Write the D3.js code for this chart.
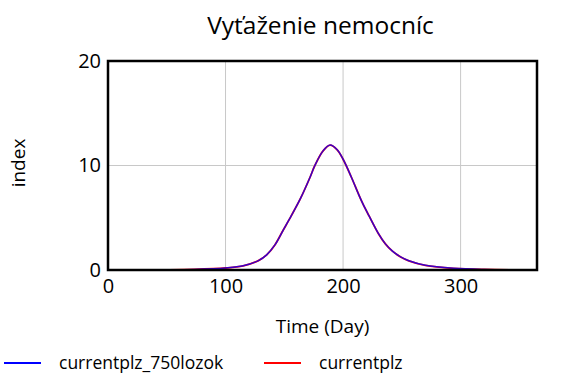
<!DOCTYPE html>
<html>
    <head>
        <meta charset="utf-8">
        <title>Vyťaženie nemocníc</title>
        <script src="https://d3js.org/d3.v7.min.js"></script>
        <style>
            body { margin: 0; background: #fff; }
            text { font-family: "Open Sans", sans-serif; fill: #000; }
        </style>
    </head>
    <body>
        <svg width="576" height="384"></svg>
        <script>
            // data (day -> index)
            var days = [0, 50, 73, 100, 115, 128, 135, 142, 149, 156, 164, 172, 176, 183, 189, 195, 200, 207, 213, 217, 222, 230, 236, 242, 249, 256, 270, 294, 320, 365];
            var current750 = [0, 0.01, 0.05, 0.19, 0.4, 0.9, 1.45, 2.4, 3.8, 5.2, 6.9, 8.9, 10.0, 11.4, 11.95, 11.5, 10.6, 8.9, 7.3, 6.3, 5.2, 3.5, 2.5, 1.8, 1.25, 0.88, 0.45, 0.16, 0.05, 0.01];
            var current = current750.slice();
            var xTicks = [0, 100, 200, 300];
            var yTicks = [0, 10, 20];
            var seriesNames = ["currentplz_750lozok", "currentplz"];
            var seriesColors = ["#0000ff", "#ff0000"];

            var pLeft = 108, pRight = 537, pTop = 61, pBottom = 270;
            var svg = d3.select("svg");

            var x = d3.scaleLinear().domain([0, 365]).range([pLeft, pRight]);
            var y = d3.scaleLinear().domain([0, 20]).range([pBottom, pTop]);

            // grid
            svg.selectAll(".gx").data(xTicks.slice(1)).enter().append("line")
                .attr("x1", d => x(d)).attr("x2", d => x(d))
                .attr("y1", pTop).attr("y2", pBottom)
                .attr("stroke", "#c8c8c8").attr("stroke-width", 1);
            svg.selectAll(".gy").data(yTicks.slice(1, -1)).enter().append("line")
                .attr("x1", pLeft).attr("x2", pRight)
                .attr("y1", d => y(d)).attr("y2", d => y(d))
                .attr("stroke", "#c8c8c8").attr("stroke-width", 1);

            // lines: red under, blue on top
            var pts = function(vals) { return days.map((d, i) => [d, vals[i]]); };
            var line = d3.line().x(d => x(d[0])).y(d => y(d[1])).curve(d3.curveCatmullRom.alpha(0.5));

            svg.append("path").datum(pts(current)).attr("d", line)
                .attr("fill", "none").attr("stroke", seriesColors[1]).attr("stroke-width", 1.8);
            svg.append("path").datum(pts(current750)).attr("d", line)
                .attr("fill", "none").attr("stroke", seriesColors[0]).attr("stroke-width", 1.5)
                .attr("stroke-opacity", 0.78);

            // frame
            svg.append("rect")
                .attr("x", pLeft).attr("y", pTop)
                .attr("width", pRight - pLeft).attr("height", pBottom - pTop)
                .attr("fill", "none").attr("stroke", "#000").attr("stroke-width", 2.5);

            // axes
            var xAxis = svg.append("g").attr("transform", "translate(0," + pBottom + ")")
                .call(d3.axisBottom(x).tickValues(xTicks).tickSize(0).tickPadding(9));
            var yAxis = svg.append("g").attr("transform", "translate(" + pLeft + ",0)")
                .call(d3.axisLeft(y).tickValues(yTicks).tickSize(0).tickPadding(7));
            [xAxis, yAxis].forEach(function(a) {
                a.select(".domain").remove();
                a.selectAll("text").style("font-size", "20px").style("font-family", "'Open Sans', sans-serif").attr("fill", "#000");
            });
            yAxis.selectAll("text").attr("dy", "0.3em");

            // title and axis labels
            svg.append("text").attr("x", (pLeft + pRight) / 2 - 2).attr("y", 34)
                .attr("text-anchor", "middle").style("font-size", "24.5px").text("Vyťaženie nemocníc");
            svg.append("text").attr("x", (pLeft + pRight) / 2).attr("y", 333)
                .attr("text-anchor", "middle").style("font-size", "19px").text("Time (Day)");
            svg.append("text").attr("transform", "translate(25,163) rotate(-90)")
                .attr("text-anchor", "middle").style("font-size", "19px").text("index");

            // legend
            var legX = [4, 264];
            var leg = svg.selectAll(".leg").data(seriesNames).enter().append("g")
                .attr("transform", (d, i) => "translate(" + legX[i] + ",363)");
            leg.append("line").attr("x1", 0).attr("x2", 37).attr("y1", 0).attr("y2", 0)
                .attr("stroke", (d, i) => seriesColors[i]).attr("stroke-width", 2);
            leg.append("text").attr("x", 55).attr("dy", "0.35em")
                .style("font-size", "17.5px").text(d => d);
        </script>
    </body>
</html>
